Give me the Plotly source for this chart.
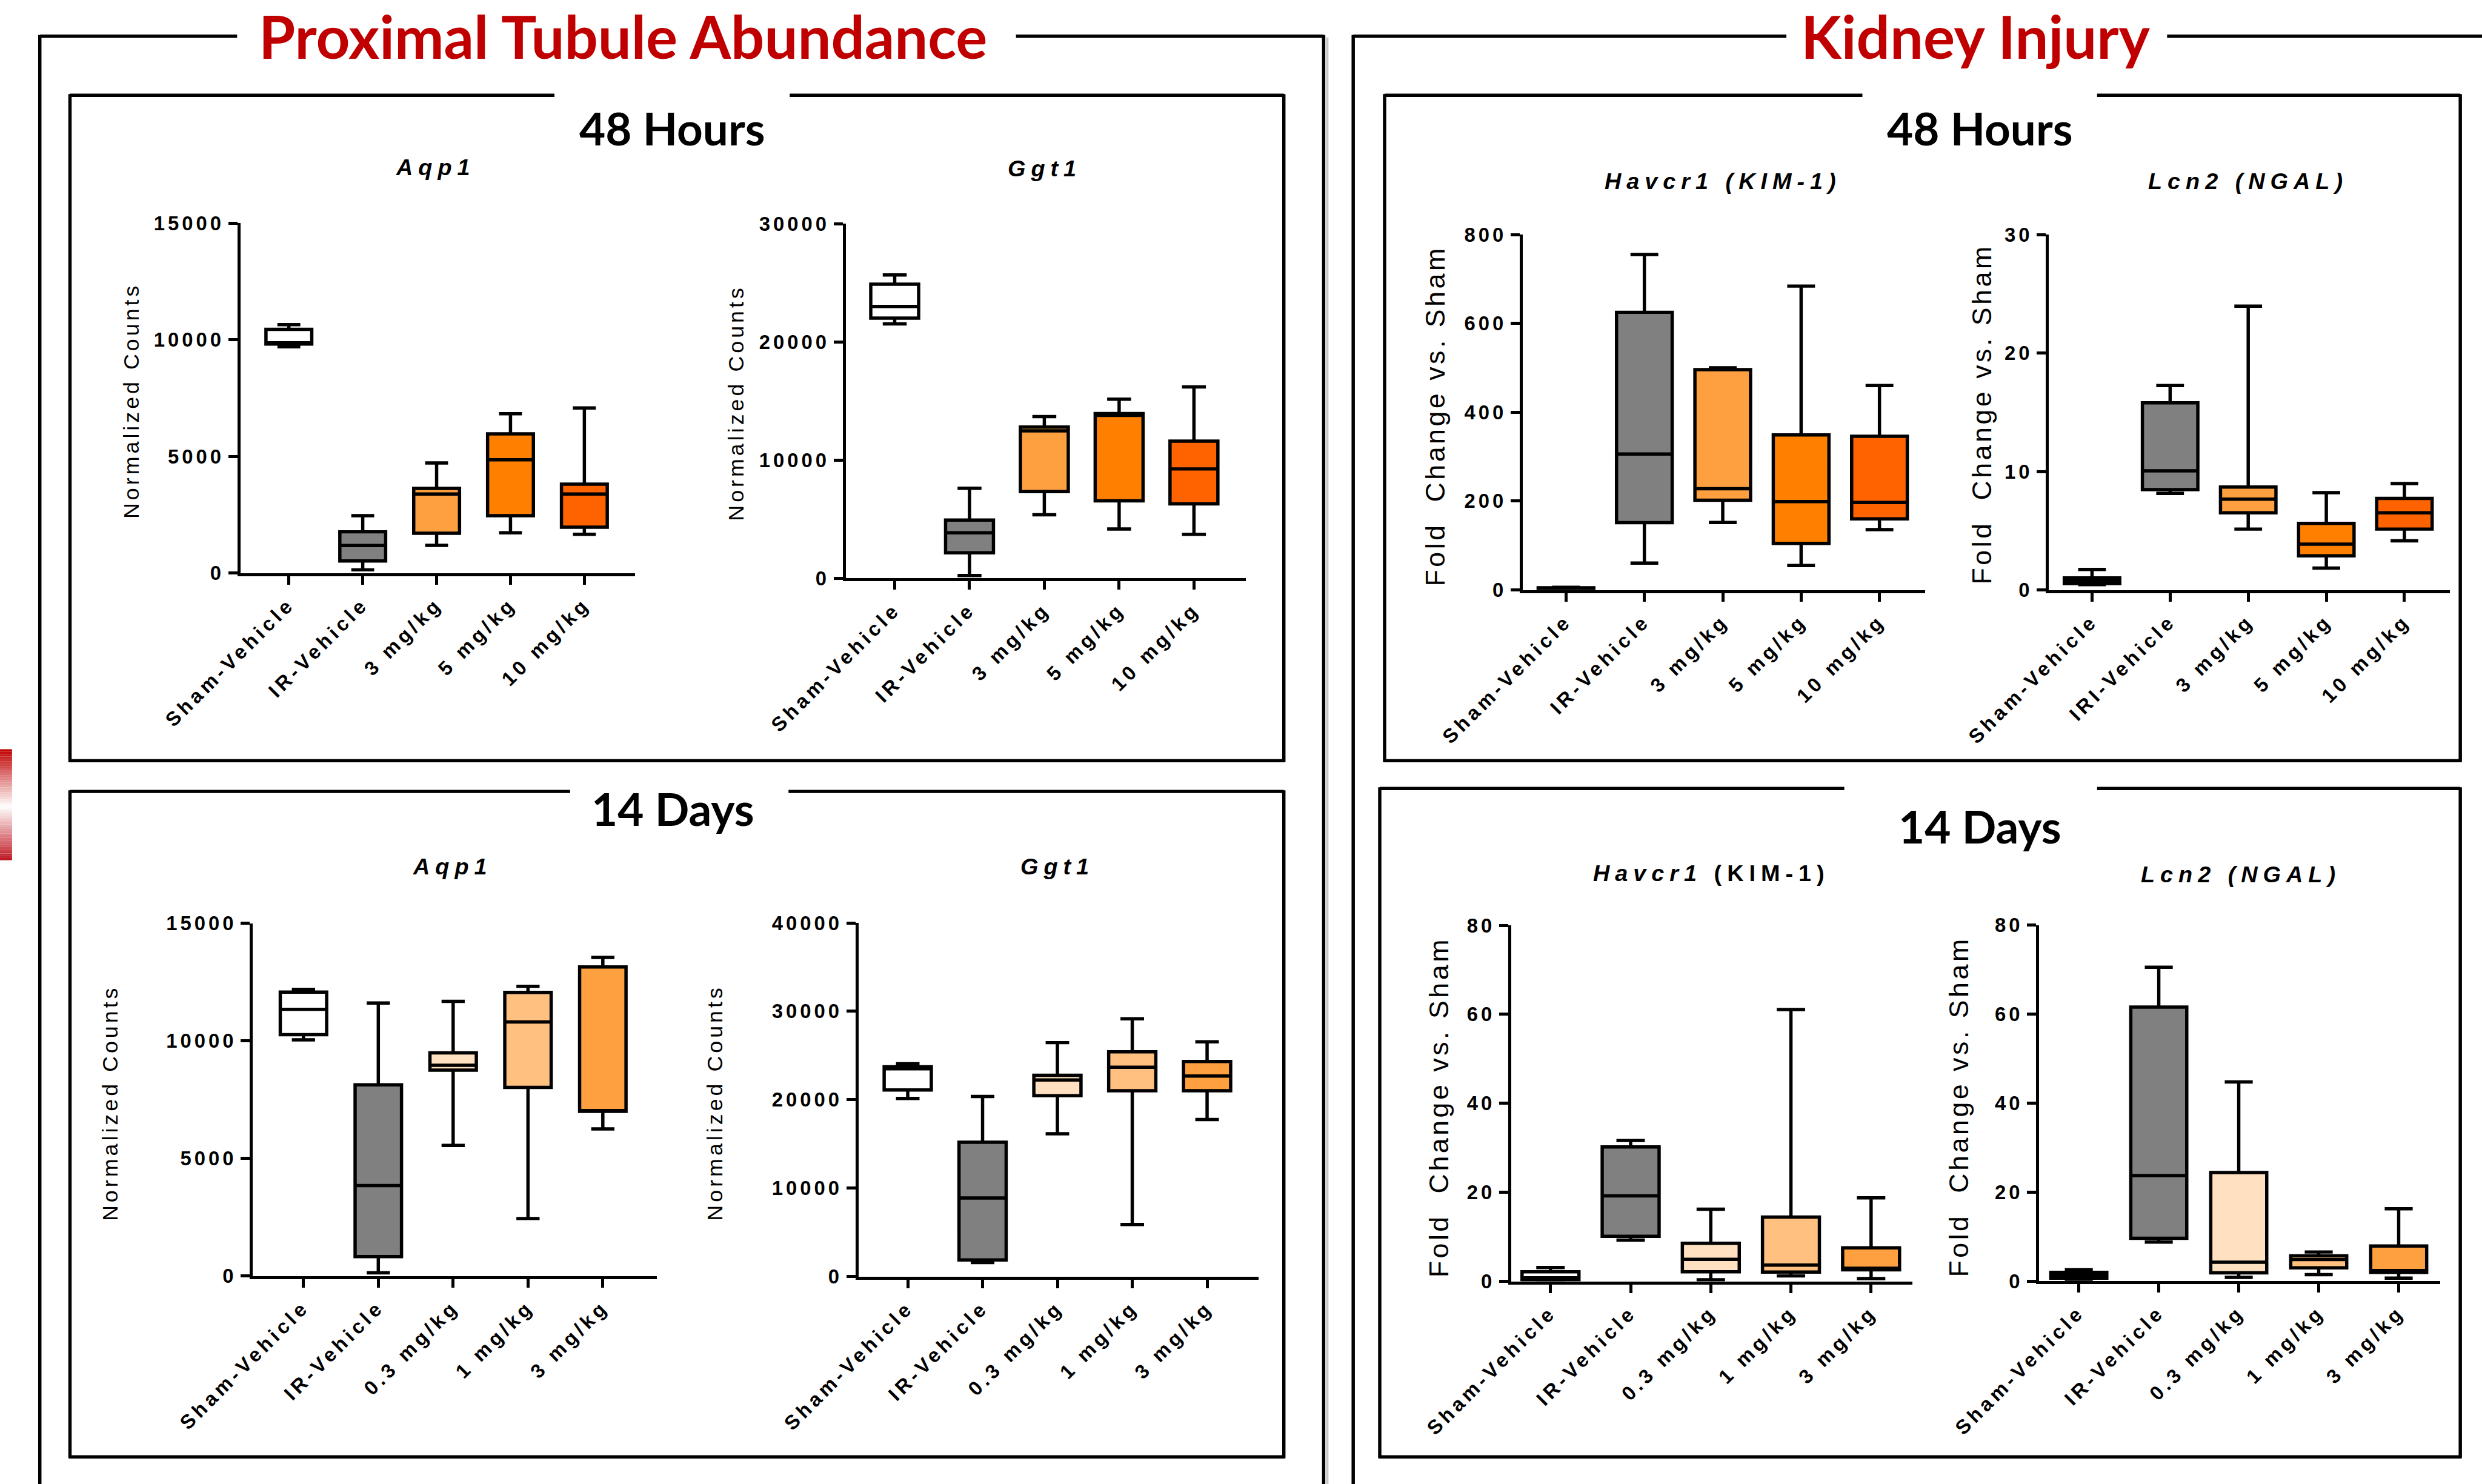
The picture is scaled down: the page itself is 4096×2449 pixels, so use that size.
import plotly.graph_objects as go

# ---------------- data ----------------
cats48 = ["Sham-Vehicle", "IR-Vehicle", "3 mg/kg", "5 mg/kg", "10 mg/kg"]
cats48_iri = ["Sham-Vehicle", "IRI-Vehicle", "3 mg/kg", "5 mg/kg", "10 mg/kg"]
cats14 = ["Sham-Vehicle", "IR-Vehicle", "0.3 mg/kg", "1 mg/kg", "3 mg/kg"]

# Aqp1 48 h (normalized counts)
aqp1_48_min = [9700, 140, 1190, 1730, 1660]
aqp1_48_q1 = [9820, 520, 1710, 2460, 1970]
aqp1_48_med = [9870, 1180, 3390, 4860, 3390]
aqp1_48_q3 = [10450, 1770, 3630, 5970, 3810]
aqp1_48_max = [10650, 2460, 4720, 6830, 7080]

# Ggt1 48 h
ggt1_48_min = [21530, 230, 5370, 4170, 3710]
ggt1_48_q1 = [22020, 2150, 7330, 6550, 6290]
ggt1_48_med = [23000, 3840, 12480, 13780, 9250]
ggt1_48_q3 = [24890, 4920, 12800, 13940, 11600]
ggt1_48_max = [25670, 7620, 13680, 15150, 16190]

# Aqp1 14 d
aqp1_14_min = [10040, 130, 5550, 2440, 6250]
aqp1_14_q1 = [10260, 820, 8750, 8020, 7000]
aqp1_14_med = [11340, 3840, 8960, 10800, 7030]
aqp1_14_q3 = [12070, 8130, 9490, 12060, 13140]
aqp1_14_max = [12190, 11610, 11680, 12320, 13550]

# Ggt1 14 d
ggt1_14_min = [20150, 1570, 16150, 5880, 17760]
ggt1_14_q1 = [21110, 1870, 20460, 21020, 21020]
ggt1_14_med = [23500, 8880, 22240, 23680, 22680]
ggt1_14_q3 = [23720, 15190, 22760, 25420, 24330]
ggt1_14_max = [24070, 20370, 26460, 29160, 26550]

# Havcr1 48 h (fold change vs sham)
hav_48_min = [0.5, 60.6, 152, 55, 136]
hav_48_q1 = [1, 151.5, 202, 105, 160]
hav_48_med = [2, 306, 228, 199, 197]
hav_48_q3 = [5, 625, 496, 349, 346]
hav_48_max = [6, 755, 500, 684, 460]

# Lcn2 48 h
lcn_48_min = [0.45, 8.15, 5.14, 1.85, 4.15]
lcn_48_q1 = [0.54, 8.47, 6.52, 2.88, 5.14]
lcn_48_med = [0.77, 10.06, 7.67, 3.87, 6.52]
lcn_48_q3 = [1.02, 15.8, 8.69, 5.62, 7.73]
lcn_48_max = [1.73, 17.25, 23.96, 8.21, 8.98]

# Havcr1 14 d
hav_14_min = [0.2, 9.25, 0.35, 1.21, 0.6]
hav_14_q1 = [0.35, 10.1, 2.16, 2.08, 2.6]
hav_14_med = [0.8, 19.2, 4.93, 3.63, 2.94]
hav_14_q3 = [2.16, 30.2, 8.56, 14.44, 7.52]
hav_14_max = [3.1, 31.65, 16.2, 61.1, 18.77]

# Lcn2 14 d
lcn_14_min = [0.43, 8.77, 0.85, 1.45, 0.68]
lcn_14_q1 = [0.68, 9.62, 1.87, 2.98, 1.96]
lcn_14_med = [1.28, 23.74, 4.26, 4.85, 2.38]
lcn_14_q3 = [1.96, 61.6, 24.4, 5.7, 7.91]
lcn_14_max = [2.55, 70.55, 44.77, 6.55, 16.26]

ticks_15k = [0, 5000, 10000, 15000]
ticks_30k = [0, 10000, 20000, 30000]
ticks_40k = [0, 10000, 20000, 30000, 40000]
ticks_800 = [0, 200, 400, 600, 800]
ticks_30 = [0, 10, 20, 30]
ticks_80 = [0, 20, 40, 60, 80]

colors48 = ["#FFFFFF", "#808080", "#FFA040", "#FF8000", "#FF6300"]
colors14 = ["#FFFFFF", "#808080", "#FFE0C0", "#FFC080", "#FFA040"]

# ---------------- geometry (reference pixels) ----------------
RW, RH = 4114.0, 2460.0
S = 0.995


def fx(X):
    return X / RW


def fy(Y):
    return 1 - Y / RH


def spaced(txt, sp):
    return '<span style="letter-spacing:%.1fpx">%s</span>' % (sp * S, txt)


LBL = "Normalized Counts"
FLD = "Fold  Change vs. Sham"

panels = [
    dict(title="<b><i>Aqp1</i></b>", cats=cats48,
         st=(aqp1_48_min, aqp1_48_q1, aqp1_48_med, aqp1_48_q3, aqp1_48_max),
         col=colors48, ymax=15000, ticks=ticks_15k, xa=398.5, xe=1053, c0=478.8, sp=122.45,
         y0=950, yt=370, bw=0.62, yl=LBL, txy=(722, 277), lxy=(218, 664), ls=36, lsp=5),
    dict(title="<b><i>Ggt1</i></b>", cats=cats48,
         st=(ggt1_48_min, ggt1_48_q1, ggt1_48_med, ggt1_48_q3, ggt1_48_max),
         col=colors48, ymax=30000, ticks=ticks_30k, xa=1402, xe=2065, c0=1483, sp=124.0,
         y0=958.5, yt=371, bw=0.64, yl=LBL, txy=(1732, 279), lxy=(1220, 668), ls=36, lsp=5),
    dict(title="<b><i>Aqp1</i></b>", cats=cats14,
         st=(aqp1_14_min, aqp1_14_q1, aqp1_14_med, aqp1_14_q3, aqp1_14_max),
         col=colors14, ymax=15000, ticks=ticks_15k, xa=419, xe=1089, c0=503, sp=124.05,
         y0=2115, yt=1530.5, bw=0.62, yl=LBL, txy=(750, 1436), lxy=(183, 1828), ls=36, lsp=5),
    dict(title="<b><i>Ggt1</i></b>", cats=cats14,
         st=(ggt1_14_min, ggt1_14_q1, ggt1_14_med, ggt1_14_q3, ggt1_14_max),
         col=colors14, ymax=40000, ticks=ticks_40k, xa=1423, xe=2086, c0=1504.6, sp=124.05,
         y0=2116, yt=1530, bw=0.63, yl=LBL, txy=(1753, 1436), lxy=(1185, 1828), ls=36, lsp=5),
    dict(title="<b><i>Havcr1 (KIM-1)</i></b>", cats=cats48,
         st=(hav_48_min, hav_48_q1, hav_48_med, hav_48_q3, hav_48_max),
         col=colors48, ymax=800, ticks=ticks_800, xa=2524, xe=3191, c0=2595.7, sp=129.9,
         y0=978, yt=388.8, bw=0.71, yl=FLD, txy=(2856, 300), lxy=(2378, 690), ls=45, lsp=4.5),
    dict(title="<b><i>Lcn2 (NGAL)</i></b>", cats=cats48_iri,
         st=(lcn_48_min, lcn_48_q1, lcn_48_med, lcn_48_q3, lcn_48_max),
         col=colors48, ymax=30, ticks=ticks_30, xa=3396, xe=4060.6, c0=3467.6, sp=129.45,
         y0=978, yt=388.8, bw=0.71, yl=FLD, txy=(3726, 300), lxy=(3284, 687), ls=45, lsp=4.5),
    dict(title="<b><i>Havcr1</i> (KIM-1)</b>", cats=cats14,
         st=(hav_14_min, hav_14_q1, hav_14_med, hav_14_q3, hav_14_max),
         col=colors14, ymax=80, ticks=ticks_80, xa=2505, xe=3170, c0=2570, sp=132.85,
         y0=2124, yt=1534, bw=0.71, yl=FLD, txy=(2837, 1447), lxy=(2384, 1836), ls=45, lsp=4.5),
    dict(title="<b><i>Lcn2 (NGAL)</i></b>", cats=cats14,
         st=(lcn_14_min, lcn_14_q1, lcn_14_med, lcn_14_q3, lcn_14_max),
         col=colors14, ymax=80, ticks=ticks_80, xa=3380, xe=4045, c0=3445.7, sp=132.55,
         y0=2123.7, yt=1533.8, bw=0.70, yl=FLD, txy=(3714, 1449), lxy=(3246, 1835), ls=45, lsp=4.5),
]

fig = go.Figure()
annotations = []
shapes = []

BASEFONT = "Liberation Sans, Arial, DejaVu Sans, sans-serif"
TICKFONT = dict(family=BASEFONT, size=33 * S, color="black", weight=700)
LW = 5.5 * S
TICK_SP = 5
XTICK_SP = 6

for i, p in enumerate(panels, start=1):
    xn = "x" if i == 1 else f"x{i}"
    yn = "y" if i == 1 else f"y{i}"
    mn, q1, md, q3, mx = p["st"]
    for k, c in enumerate(p["cats"]):
        fig.add_trace(go.Box(
            x=[c], q1=[q1[k]], median=[md[k]], q3=[q3[k]],
            lowerfence=[mn[k]], upperfence=[mx[k]],
            fillcolor=p["col"][k], line=dict(color="black", width=LW),
            width=p["bw"], whiskerwidth=0.5, boxpoints=False,
            hoverinfo="skip", xaxis=xn, yaxis=yn, showlegend=False,
        ))
    r0 = (p["xa"] - p["c0"]) / p["sp"]
    r1 = (p["xe"] - p["c0"]) / p["sp"]
    xkey = "xaxis" if i == 1 else f"xaxis{i}"
    ykey = "yaxis" if i == 1 else f"yaxis{i}"
    fig.update_layout({
        xkey: dict(domain=[fx(p["xa"]), fx(p["xe"])], anchor=yn, type="category",
                   categoryorder="array", categoryarray=p["cats"], range=[r0, r1],
                   tickvals=p["cats"], ticktext=[spaced(c, XTICK_SP) for c in p["cats"]],
                   automargin=False,
                   showline=True, linewidth=LW, linecolor="black", ticks="outside",
                   ticklen=14 * S, tickwidth=LW, tickcolor="black", tickangle=-45,
                   tickfont=TICKFONT, showgrid=False, zeroline=False),
        ykey: dict(domain=[fy(p["y0"]), fy(p["yt"])], anchor=xn, range=[0, p["ymax"]],
                   automargin=False,
                   tickvals=p["ticks"], ticktext=[spaced(str(t), TICK_SP) for t in p["ticks"]],
                   showline=True, linewidth=LW, linecolor="black", ticks="outside",
                   ticklen=15 * S, tickwidth=LW, tickcolor="black",
                   tickfont=TICKFONT, showgrid=False, zeroline=False),
    })
    tx, ty = p["txy"]
    annotations.append(dict(text=spaced(p["title"], 9), x=fx(tx), y=fy(ty), xref="paper", yref="paper",
                            xanchor="center", yanchor="middle", showarrow=False,
                            font=dict(family=BASEFONT, size=38 * S, color="black")))
    lx, ly = p["lxy"]
    annotations.append(dict(text=spaced(p["yl"], p["lsp"]), x=fx(lx), y=fy(ly), xref="paper", yref="paper",
                            xanchor="center", yanchor="middle", showarrow=False, textangle=-90,
                            font=dict(family=BASEFONT, size=p["ls"] * S, color="black")))

# ---------------- section titles ----------------
RED = "#C00000"
big_titles = [
    ("Proximal Tubule Abundance", 1033, 60, 98, RED),
    ("Kidney Injury", 3275, 60, 98, RED),
    ("48 Hours", 1114, 212, 75, "black"),
    ("48 Hours", 3281, 212, 75, "black"),
    ("14 Days", 1115, 1340, 75, "black"),
    ("14 Days", 3282, 1369, 75, "black"),
]
for t, X, Y, fs, colr in big_titles:
    annotations.append(dict(text=t, x=fx(X), y=fy(Y), xref="paper", yref="paper",
                            xanchor="center", yanchor="middle", showarrow=False,
                            font=dict(family="Lato", size=fs * S, color=colr, weight=700)))


# ---------------- frame lines ----------------
def seg(x0, y0, x1, y1, w=LW, color="black"):
    shapes.append(dict(type="line", xref="paper", yref="paper",
                       x0=fx(x0), y0=fy(y0), x1=fx(x1), y1=fy(y1),
                       line=dict(color=color, width=w)))


# outer left frame
seg(66, 60, 393, 60)
seg(1684, 60, 2194, 60)
seg(66, 58, 66, 2470)
seg(2194, 58, 2194, 2470)
seg(2200, 62, 2200, 2470, w=4, color="#C8C8C8")
# outer right frame
seg(2243, 60, 2961, 60)
seg(3592, 60, 4120, 60)
seg(2243, 58, 2243, 2470)
# inner left 48 h
seg(116, 158, 919, 158)
seg(1309, 158, 2128, 158)
seg(116, 156, 116, 1263)
seg(2128, 156, 2128, 1263)
seg(114, 1261, 2130, 1261)
# inner left 14 d
seg(116, 1312, 945, 1312)
seg(1307, 1312, 2128, 1312)
seg(116, 1310, 116, 2417)
seg(2128, 1310, 2128, 2417)
seg(114, 2415, 2130, 2415)
# inner right 48 h
seg(2295, 158, 3087, 158)
seg(3476, 158, 4078, 158)
seg(2295, 156, 2295, 1263)
seg(4078, 156, 4078, 1263)
seg(2293, 1261, 4080, 1261)
# inner right 14 d
seg(2287, 1307, 3057, 1307)
seg(3476, 1307, 4078, 1307)
seg(2287, 1305, 2287, 2417)
seg(4078, 1305, 4078, 2417)
seg(2285, 2415, 4080, 2415)

# small red gradient strip at left edge
top_c = (192, 0, 0)
bot_c = (190, 20, 30)
ya, ym, yb = 1242, 1337, 1426
nst = 24
for j in range(nst):
    t0 = j / nst
    t1 = (j + 1) / nst
    yy0 = ya + (ym - ya) * t0
    yy1 = ya + (ym - ya) * t1
    f = (t0 + t1) / 2
    c = tuple(int(round(top_c[k] + (255 - top_c[k]) * f)) for k in range(3))
    shapes.append(dict(type="rect", xref="paper", yref="paper", x0=fx(0), x1=fx(20),
                       y0=fy(yy1), y1=fy(yy0), line=dict(width=0),
                       fillcolor="rgb(%d,%d,%d)" % c))
for j in range(nst):
    t0 = j / nst
    t1 = (j + 1) / nst
    yy0 = ym + (yb - ym) * t0
    yy1 = ym + (yb - ym) * t1
    f = 1 - (t0 + t1) / 2
    c = tuple(int(round(bot_c[k] + (255 - bot_c[k]) * f)) for k in range(3))
    shapes.append(dict(type="rect", xref="paper", yref="paper", x0=fx(0), x1=fx(20),
                       y0=fy(yy1), y1=fy(yy0), line=dict(width=0),
                       fillcolor="rgb(%d,%d,%d)" % c))

fig.update_layout(
    template="none",
    width=4096, height=2449,
    margin=dict(l=0, r=0, t=0, b=0, pad=0, autoexpand=False),
    paper_bgcolor="white", plot_bgcolor="rgba(0,0,0,0)",
    showlegend=False,
    annotations=annotations,
    shapes=shapes,
    font=dict(family=BASEFONT, color="black"),
)

fig.write_html("out.html")
